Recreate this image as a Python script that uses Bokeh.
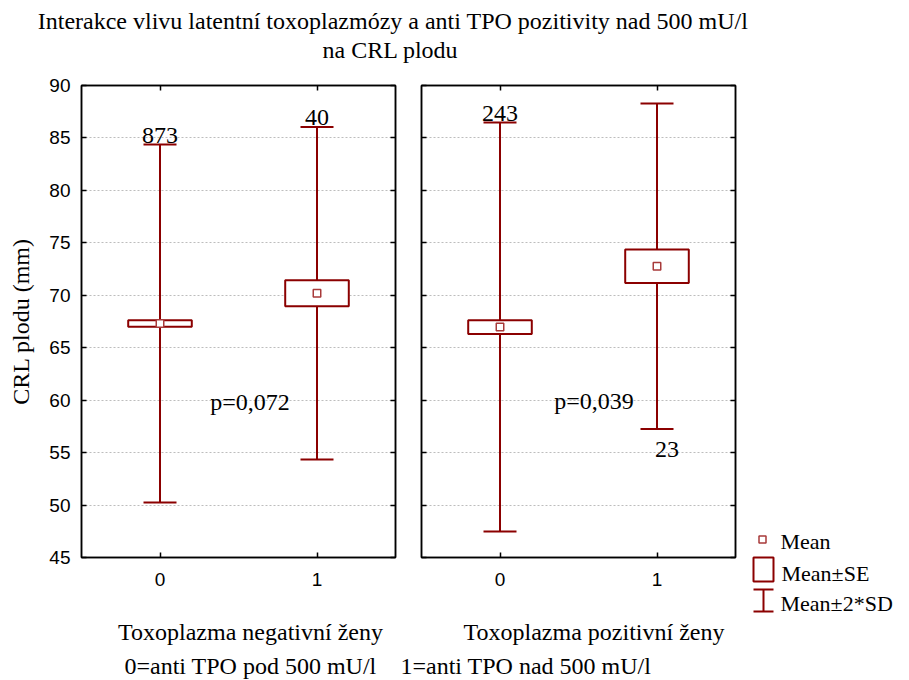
from bokeh.plotting import figure
from bokeh.models import Range1d, FixedTicker, LinearAxis, ColumnDataSource, Whisker, TeeHead
from bokeh.layouts import column, row
from bokeh.embed import file_html
from bokeh.resources import INLINE
from bokeh.core.properties import value

# ---------------- data ----------------
title_lines = ["Interakce vlivu latentní toxoplazmózy a anti TPO pozitivity nad 500 mU/l",
               "na CRL plodu"]
y_label = "CRL plodu (mm)"
categories = ["0", "1"]
x_pos = [0, 1]
y_ticks = [45, 50, 55, 60, 65, 70, 75, 80, 85, 90]
panel_names = ["Toxoplazma negativní ženy", "Toxoplazma pozitivní ženy"]
footnote = ["0=anti TPO pod 500 mU/l", "1=anti TPO nad 500 mU/l"]
legend_labels = ["Mean", "Mean\u00b1SE", "Mean\u00b12*SD"]

neg_mean = [67.31, 70.20]
neg_se = [0.32, 1.24]
neg_2sd = [17.07, 15.85]
neg_n = [873, 40]
neg_p = "p=0,072"

pos_mean = [66.97, 72.77]
pos_se = [0.65, 1.59]
pos_2sd = [19.50, 15.51]
pos_n = [243, 23]
pos_p = "p=0,039"

# ---------------- style ----------------
RED = "#8B0000"
MEAN_LINE = "#A83A3A"
SERIF = value("Liberation Serif")
SANS = "Liberation Sans"
FS = "24px"
ROW_H = 545


def style_axis(ax, labels):
    ax.major_tick_in = 5
    ax.major_tick_out = 0
    ax.minor_tick_line_color = None
    ax.axis_line_color = "black"
    ax.axis_line_width = 1.5
    ax.major_tick_line_color = "black"
    ax.major_tick_line_width = 1.5
    if labels:
        ax.major_label_text_font = SANS
        ax.major_label_text_font_size = "19px"
        ax.major_label_text_color = "black"
    else:
        ax.major_label_text_font_size = "1px"
        ax.major_label_text_color = None
        ax.major_label_standoff = 0


def make_panel(means, ses, sd2s, ns, ptext, p_xy, n_above, width, bl, br, ylabels):
    p = figure(width=width, height=ROW_H, x_range=Range1d(-0.5, 1.5), y_range=Range1d(45, 90),
               output_backend="svg", toolbar_location=None, frame_align=False,
               min_border_left=bl, min_border_right=br, min_border_top=15, min_border_bottom=58)
    p.outline_line_color = "black"
    p.outline_line_width = 1.5
    p.background_fill_color = "white"
    p.border_fill_color = "white"

    xt = FixedTicker(ticks=x_pos)
    yt = FixedTicker(ticks=y_ticks)

    bx = p.xaxis[0]
    bx.ticker = xt
    bx.major_label_overrides = {x: c for x, c in zip(x_pos, categories)}
    style_axis(bx, True)
    bx.major_label_standoff = 15

    ly = p.yaxis[0]
    ly.ticker = yt
    style_axis(ly, ylabels)
    if ylabels:
        ly.major_label_standoff = 11
        ly.axis_label = y_label
        ly.axis_label_text_font = "Liberation Serif"
        ly.axis_label_text_font_size = FS
        ly.axis_label_text_font_style = "normal"
        ly.axis_label_text_color = "black"
        ly.axis_label_standoff = 12

    ax_top = LinearAxis(ticker=xt)
    style_axis(ax_top, False)
    p.add_layout(ax_top, "above")
    ax_r = LinearAxis(ticker=yt)
    style_axis(ax_r, False)
    p.add_layout(ax_r, "right")

    p.xgrid.visible = False
    p.ygrid.ticker = yt
    p.ygrid.grid_line_color = "#BDBDBD"
    p.ygrid.grid_line_dash = "2 2"
    p.ygrid.grid_line_width = 1

    lo_sd = [m - s for m, s in zip(means, sd2s)]
    hi_sd = [m + s for m, s in zip(means, sd2s)]
    src = ColumnDataSource(dict(x=x_pos, mean=means, se2=[2 * s for s in ses],
                                lo=lo_sd, hi=hi_sd))

    w = Whisker(base="x", lower="lo", upper="hi", dimension="height", source=src,
                line_color=RED, line_width=2, level="underlay",
                lower_head=TeeHead(size=33, line_color=RED, line_width=2),
                upper_head=TeeHead(size=33, line_color=RED, line_width=2))
    p.add_layout(w)

    p.rect(x="x", y="mean", width=0.405, height="se2", source=src,
           fill_color="white", line_color=RED, line_width=2)
    p.scatter(x="x", y="mean", source=src, marker="square", size=7.5,
              fill_color="white", line_color=MEAN_LINE, line_width=1.5)

    # sample sizes
    up_x = [x for x, a in zip(x_pos, n_above) if a]
    up_y = [h for h, a in zip(hi_sd, n_above) if a]
    up_t = [str(n) for n, a in zip(ns, n_above) if a]
    dn_x = [x for x, a in zip(x_pos, n_above) if not a]
    dn_y = [l for l, a in zip(lo_sd, n_above) if not a]
    dn_t = [str(n) for n, a in zip(ns, n_above) if not a]
    if up_x:
        p.text(x=up_x, y=up_y, text=up_t, text_font=SERIF, text_font_size=FS,
               text_align="center", text_baseline="middle", y_offset=-9, text_color="black")
    if dn_x:
        p.text(x=dn_x, y=dn_y, text=dn_t, text_font=SERIF, text_font_size=FS,
               text_align="center", text_baseline="middle", y_offset=21, x_offset=10,
               text_color="black")

    p.text(x=[p_xy[0]], y=[p_xy[1]], text=[ptext], text_font=SERIF, text_font_size=FS,
           text_align="center", text_baseline="middle", text_color="black")
    return p


left = make_panel(neg_mean, neg_se, neg_2sd, neg_n, neg_p, (0.573, 59.84), [True, True],
                  398, 81, 3, True)
right = make_panel(pos_mean, pos_se, pos_2sd, pos_n, pos_p, (0.599, 59.93), [True, False],
                   347, 23, 10, False)


def blank(w, h, y0):
    # plain drawing area whose coordinates are page pixels (y downwards)
    f = figure(width=w, height=h, x_range=Range1d(0, w), y_range=Range1d(y0 + h, y0),
               output_backend="svg", toolbar_location=None, min_border=0, frame_align=False,
               x_axis_location=None, y_axis_location=None)
    f.outline_line_color = None
    f.xgrid.visible = False
    f.ygrid.visible = False
    f.background_fill_color = "white"
    f.border_fill_color = "white"
    return f


# legend (x relative to x=745 on the page)
leg = blank(164, ROW_H, 70)
leg.scatter(x=[17], y=[539], marker="square", size=7, fill_color="white",
            line_color=MEAN_LINE, line_width=1.5)
leg.rect(x=[18], y=[569], width=20, height=24, fill_color="white", line_color=RED, line_width=2)
leg.segment(x0=[18, 8, 8], y0=[589, 589, 611], x1=[18, 28, 28], y1=[611, 589, 611],
            line_color=RED, line_width=2)
leg.text(x=[35, 36, 35], y=[541, 573, 603], text=legend_labels, text_font=SERIF,
         text_font_size="22px", text_align="left", text_baseline="middle", text_color="black")

# title
top = blank(909, 70, 0)
top.text(x=[392.5, 390], y=[20, 49], text=title_lines, text_font=SERIF,
         text_font_size=FS, text_align="center", text_baseline="middle", text_color="black")

# bottom texts
bot = blank(909, 65, 615)
bot.text(x=[250, 593.5], y=[631, 631], text=panel_names, text_font=SERIF,
         text_font_size=FS, text_align="center", text_baseline="middle", text_color="black")
bot.text(x=[124, 400], y=[665, 665], text=footnote, text_font=SERIF,
         text_font_size=FS, text_align="left", text_baseline="middle", text_color="black")

layout = column(top, row(left, right, leg), bot)
open("out.html", "w").write(file_html(layout, INLINE))
